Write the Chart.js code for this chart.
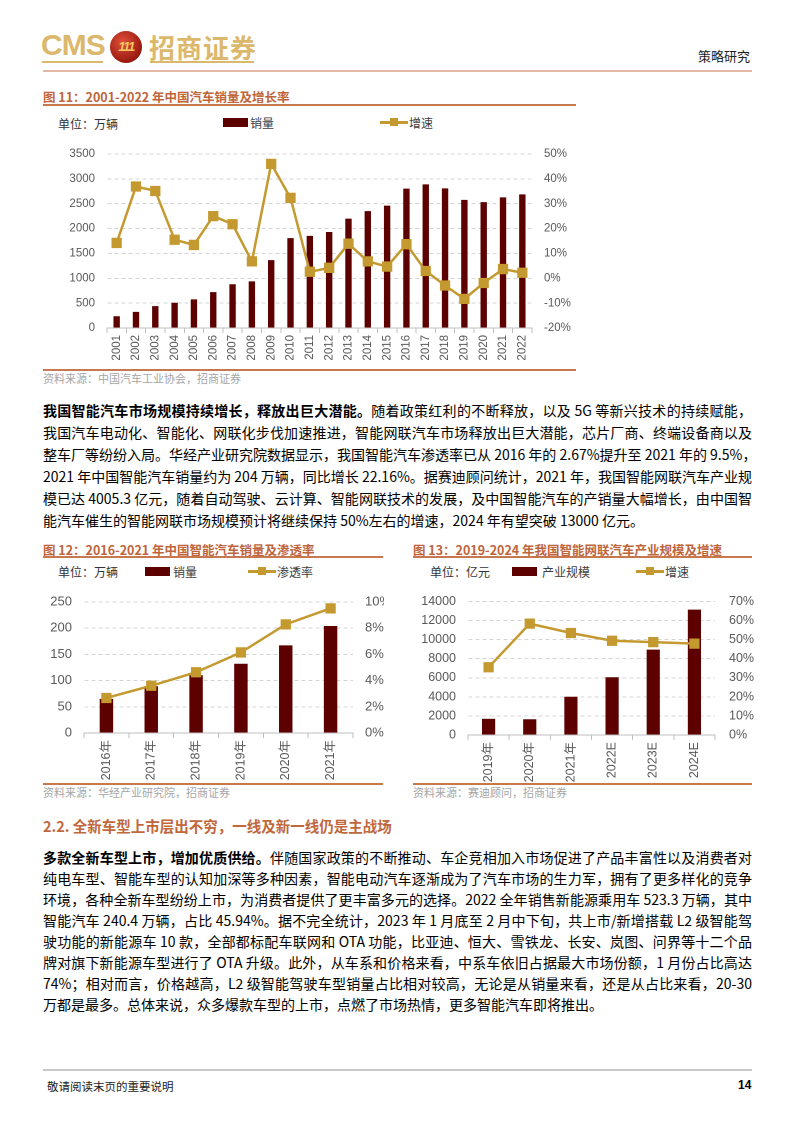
<!DOCTYPE html>
<html>
<head>
<meta charset="utf-8">
<script src="https://cdn.jsdelivr.net/npm/chart.js@4.4.0/dist/chart.umd.min.js"></script>
<style>
  body { margin: 0; background: #fff; font-family: "Liberation Sans", "Noto Sans CJK SC", sans-serif; }
  #page { position: relative; width: 794px; height: 1123px; overflow: hidden; }
  .abs { position: absolute; white-space: nowrap; }
  .cjk { font-family: "Noto Sans CJK SC", sans-serif; }
  .title { font-size: 12.5px; font-weight: bold; color: #bf653c; }
  .rule { position: absolute; height: 1.5px; background: #c8784e; }
  .src { font-size: 11px; color: #a6a6a6; }
  .unit { font-size: 12px; color: #333; }
  .leg { font-size: 12px; color: #404040; }
  .legbar { position: absolute; width: 25px; height: 9px; background: #5c0000; }
  .legline { position: absolute; width: 28px; height: 3px; background: #c49a30; }
  .legline::after { content: ""; position: absolute; left: 10px; top: -3px; width: 8px; height: 8px; background: #c49a30; }
  .para { position: absolute; left: 43px; width: 709px; font-size: 14px; color: #000; }
  .para div { text-align: justify; text-align-last: justify; white-space: nowrap; height: 22px; line-height: 22px; }
  .para div.last { text-align-last: left; }
  .para2 div { height: 21px; line-height: 21px; }
  canvas { position: absolute; }
</style>
</head>
<body>
<div id="page">
  <!-- header -->
  <div class="abs" style="left:41px;top:28px;font-size:30px;font-weight:bold;color:#dcb86c;letter-spacing:-1px;">CMS</div>
  <div class="abs" style="left:42px;top:61px;width:61px;height:2px;background:#dcb86c;"></div>
  <div class="abs" style="left:110px;top:31px;width:32px;height:32px;border-radius:50%;background:radial-gradient(circle at 40% 35%, #e0503a, #9a1a10 70%, #6a0e08);"></div>
  <div class="abs" style="left:113px;top:39px;width:26px;text-align:center;font-size:13px;font-weight:bold;font-style:italic;color:#f0c860;letter-spacing:-1.5px;">111</div>
  <div class="abs cjk" style="left:149px;top:28px;font-size:26px;font-weight:bold;color:#dcb86c;letter-spacing:1px;">招商证券</div>
  <div class="abs" style="left:150px;top:61px;width:104px;height:2px;background:#dcb86c;"></div>
  <div class="abs cjk" style="left:698px;top:46px;font-size:13px;color:#222;">策略研究</div>
  <div class="abs" style="left:43px;top:70px;width:709px;height:2px;background:#e3b8a6;"></div>

  <!-- figure 11 -->
  <div class="abs title cjk" style="left:43px;top:87px;">图 11：2001-2022 年中国汽车销量及增长率</div>
  <div class="rule" style="left:43px;top:104px;width:533px;"></div>
  <div class="abs unit cjk" style="left:58px;top:115px;">单位：万辆</div>
  <div class="legbar" style="left:223px;top:118px;"></div>
  <div class="abs leg cjk" style="left:250px;top:114px;">销量</div>
  <div class="legline" style="left:380px;top:121px;"></div>
  <div class="abs leg cjk" style="left:409px;top:114px;">增速</div>
  <canvas id="c1" width="540" height="230" style="left:40px;top:135px;width:540px;height:230px;"></canvas>
  <div class="rule" style="left:43px;top:369px;width:533px;"></div>
  <div class="abs src cjk" style="left:43px;top:370px;">资料来源：中国汽车工业协会，招商证券</div>

  <!-- paragraph 1 -->
  <div class="para cjk" style="top:399px;">
    <div><b>我国智能汽车市场规模持续增长，释放出巨大潜能。</b>随着政策红利的不断释放，以及 5G 等新兴技术的持续赋能，</div>
    <div>我国汽车电动化、智能化、网联化步伐加速推进，智能网联汽车市场释放出巨大潜能，芯片厂商、终端设备商以及</div>
    <div>整车厂等纷纷入局。华经产业研究院数据显示，我国智能汽车渗透率已从 2016 年的 2.67%提升至 2021 年的 9.5%，</div>
    <div>2021 年中国智能汽车销量约为 204 万辆，同比增长 22.16%。据赛迪顾问统计，2021 年，我国智能网联汽车产业规</div>
    <div>模已达 4005.3 亿元，随着自动驾驶、云计算、智能网联技术的发展，及中国智能汽车的产销量大幅增长，由中国智</div>
    <div class="last">能汽车催生的智能网联市场规模预计将继续保持 50%左右的增速，2024 年有望突破 13000 亿元。</div>
  </div>

  <!-- figure 12 -->
  <div class="abs title cjk" style="left:43px;top:540px;">图 12：2016-2021 年中国智能汽车销量及渗透率</div>
  <div class="rule" style="left:43px;top:556px;width:340px;"></div>
  <div class="abs unit cjk" style="left:58px;top:563px;">单位：万辆</div>
  <div class="legbar" style="left:145px;top:567px;"></div>
  <div class="abs leg cjk" style="left:173px;top:563px;">销量</div>
  <div class="legline" style="left:248px;top:570px;"></div>
  <div class="abs leg cjk" style="left:277px;top:563px;">渗透率</div>
  <canvas id="c2" width="344" height="200" style="left:40px;top:582px;width:344px;height:200px;"></canvas>
  <div class="rule" style="left:43px;top:783px;width:340px;"></div>
  <div class="abs src cjk" style="left:43px;top:784px;">资料来源：华经产业研究院，招商证券</div>

  <!-- figure 13 -->
  <div class="abs title cjk" style="left:413px;top:540px;">图 13：2019-2024 年我国智能网联汽车产业规模及增速</div>
  <div class="rule" style="left:413px;top:556px;width:339px;"></div>
  <div class="abs unit cjk" style="left:430px;top:563px;">单位：亿元</div>
  <div class="legbar" style="left:512px;top:567px;"></div>
  <div class="abs leg cjk" style="left:542px;top:563px;">产业规模</div>
  <div class="legline" style="left:636px;top:570px;"></div>
  <div class="abs leg cjk" style="left:665px;top:563px;">增速</div>
  <canvas id="c3" width="345" height="200" style="left:412px;top:582px;width:345px;height:200px;"></canvas>
  <div class="rule" style="left:413px;top:783px;width:339px;"></div>
  <div class="abs src cjk" style="left:413px;top:784px;">资料来源：赛迪顾问，招商证券</div>

  <!-- section 2.2 -->
  <div class="abs cjk" style="left:43px;top:815px;font-size:14.5px;font-weight:bold;color:#c0683c;">2.2. 全新车型上市层出不穷，一线及新一线仍是主战场</div>
  <div class="para para2 cjk" style="top:847px;">
    <div><b>多款全新车型上市，增加优质供给。</b>伴随国家政策的不断推动、车企竞相加入市场促进了产品丰富性以及消费者对</div>
    <div>纯电车型、智能车型的认知加深等多种因素，智能电动汽车逐渐成为了汽车市场的生力军，拥有了更多样化的竞争</div>
    <div>环境，各种全新车型纷纷上市，为消费者提供了更丰富多元的选择。2022 全年销售新能源乘用车 523.3 万辆，其中</div>
    <div>智能汽车 240.4 万辆，占比 45.94%。据不完全统计，2023 年 1 月底至 2 月中下旬，共上市/新增搭载 L2 级智能驾</div>
    <div>驶功能的新能源车 10 款，全部都标配车联网和 OTA 功能，比亚迪、恒大、雪铁龙、长安、岚图、问界等十二个品</div>
    <div>牌对旗下新能源车型进行了 OTA 升级。此外，从车系和价格来看，中系车依旧占据最大市场份额，1 月份占比高达</div>
    <div>74%；相对而言，价格越高，L2 级智能驾驶车型销量占比相对较高，无论是从销量来看，还是从占比来看，20-30</div>
    <div class="last">万都是最多。总体来说，众多爆款车型的上市，点燃了市场热情，更多智能汽车即将推出。</div>
  </div>

  <!-- footer -->
  <div class="abs" style="left:43px;top:1069px;width:709px;height:1.5px;background:#c8c8c8;"></div>
  <div class="abs cjk" style="left:47px;top:1078px;font-size:11.5px;color:#222;">敬请阅读末页的重要说明</div>
  <div class="abs" style="left:738px;top:1078px;font-size:12px;font-weight:bold;color:#000;">14</div>
</div>

<script>
// 图11 数据
const years1 = ["2001","2002","2003","2004","2005","2006","2007","2008","2009","2010","2011",
  "2012","2013","2014","2015","2016","2017","2018","2019","2020","2021","2022"];
const sales1 = [237, 325, 439, 507, 576, 722, 879, 938, 1364, 1806, 1851,
  1931, 2198, 2349, 2460, 2803, 2888, 2808, 2577, 2531, 2627, 2686];
const growth1 = [14.2, 36.9, 35.1, 15.5, 13.4, 25.0, 21.7, 6.8, 46.0, 32.3, 2.6,
  4.2, 13.9, 6.8, 4.7, 13.7, 2.9, -2.9, -8.3, -1.9, 3.7, 2.2];

// 图12 数据
const years2 = ["2016年","2017年","2018年","2019年","2020年","2021年"];
const sales2 = [65, 89, 110, 132, 167, 204];
const penetration2 = [2.67, 3.6, 4.63, 6.14, 8.28, 9.5];

// 图13 数据
const years3 = ["2019年","2020年","2021年","2022E","2023E","2024E"];
const scale3 = [1700, 1650, 4005, 6050, 8950, 13150];
const growth3 = [35.5, 58.4, 53.5, 49.4, 48.7, 47.9];

const BAR = "#5c0000";
const GOLD = "#c49a30";
const TICK = "#595959";
const GRID = "#d4d4d4";
const AXIS = "#bfbfbf";

function fixWidth(w) {
  return function (scale) { scale.width = w; };
}
function fixHeight(h) {
  return function (scale) { scale.height = h; };
}

function makeChart(id, cfg) {
  new Chart(document.getElementById(id), {
    data: {
      labels: cfg.labels,
      datasets: [
        {
          type: "line",
          data: cfg.lineData,
          yAxisID: "y1",
          borderColor: GOLD,
          backgroundColor: GOLD,
          borderWidth: cfg.lineWidth,
          pointStyle: "rect",
          pointRadius: cfg.pointRadius,
          tension: 0,
          order: 0,
        },
        {
          type: "bar",
          data: cfg.barData,
          yAxisID: "y",
          backgroundColor: BAR,
          borderWidth: 0,
          categoryPercentage: 1,
          barPercentage: cfg.barPct,
          order: 1,
        },
      ],
    },
    options: {
      responsive: false,
      animation: false,
      devicePixelRatio: 2,
      layout: { padding: { top: 10, left: 0, right: 0, bottom: 0 } },
      plugins: { legend: { display: false }, tooltip: { enabled: false } },
      scales: {
        x: {
          afterFit: fixHeight(cfg.xHeight),
          grid: { offset: true, drawOnChartArea: false, drawTicks: true, tickLength: 5, color: AXIS },
          border: { color: AXIS },
          ticks: {
            minRotation: 90, maxRotation: 90, autoSkip: false, padding: 2,
            color: TICK, font: { size: cfg.xFont, family: "Liberation Sans, Noto Sans CJK SC" },
          },
        },
        y: {
          position: "left",
          min: cfg.yMin, max: cfg.yMax,
          afterFit: fixWidth(cfg.yWidth),
          grid: { color: GRID, drawTicks: false, lineWidth: 1 },
          border: { display: true, color: "rgba(0,0,0,0)", dash: [4, 3] },
          ticks: {
            stepSize: cfg.yStep, padding: 12, color: TICK,
            font: { size: cfg.yFont, family: "Liberation Sans" },
            callback: (v) => String(v),
          },
        },
        y1: {
          position: "right",
          min: cfg.y1Min, max: cfg.y1Max,
          afterFit: fixWidth(cfg.y1Width),
          grid: { display: false },
          border: { display: false },
          ticks: {
            stepSize: cfg.y1Step, padding: cfg.y1Pad, color: TICK,
            font: { size: cfg.yFont, family: "Liberation Sans" },
            callback: (v) => v + "%",
          },
        },
      },
    },
  });
}

makeChart("c1", {
  labels: years1, barData: sales1, lineData: growth1,
  yMin: 0, yMax: 3500, yStep: 500, y1Min: -20, y1Max: 50, y1Step: 10,
  yWidth: 67, y1Width: 48, y1Pad: 4, xHeight: 37, barPct: 0.33,
  lineWidth: 2.5, pointRadius: 5.5, xFont: 11.5, yFont: 11.5,
});

makeChart("c2", {
  labels: years2, barData: sales2, lineData: penetration2,
  yMin: 0, yMax: 250, yStep: 50, y1Min: 0, y1Max: 10, y1Step: 2,
  yWidth: 44, y1Width: 31, y1Pad: 4, xHeight: 49, barPct: 0.3,
  lineWidth: 2.5, pointRadius: 5.5, xFont: 12.5, yFont: 13,
});

makeChart("c3", {
  labels: years3, barData: scale3, lineData: growth3,
  yMin: 0, yMax: 14000, yStep: 2000, y1Min: 0, y1Max: 70, y1Step: 10,
  yWidth: 56, y1Width: 42, y1Pad: 6, xHeight: 47, barPct: 0.32,
  lineWidth: 2.5, pointRadius: 5.5, xFont: 12.5, yFont: 12.5,
});
</script>
</body>
</html>
